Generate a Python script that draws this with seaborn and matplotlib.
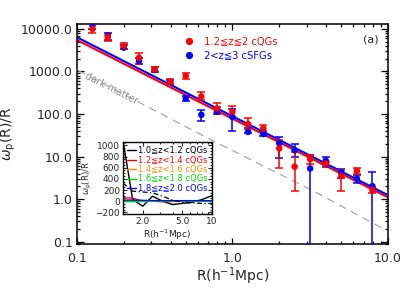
import numpy as np
import pandas as pd
import matplotlib
matplotlib.use("Agg")
import matplotlib.pyplot as plt
import seaborn as sns
from matplotlib.lines import Line2D
from matplotlib.ticker import FixedLocator, FuncFormatter, LogLocator, MultipleLocator, NullFormatter

# projected separation bins (h^-1 Mpc)
r_bins = [0.126, 0.158, 0.200, 0.251, 0.316, 0.398, 0.501, 0.631, 0.794, 1.00,
          1.26, 1.58, 2.00, 2.51, 3.16, 3.98, 5.01, 6.31, 7.94]

# 1.2<=z<=2 compact quiescent galaxies: value, lower and upper end of error bar
qg_w = [10000, 6400, 4000, 2100, 1120, 570, 790, 258, 136, 113,
        58, 46, 15.6, 5.8, 8.7, 6.9, 3.5, 4.6, 1.63]
qg_lo = [7900, 5300, 3330, 1480, 990, 507, 665, 213, 98, 87,
         45, 38, 5.4, 1.57, 6.6, 6.0, 1.57, 4.0, 1.41]
qg_hi = [13100, 7900, 4600, 2700, 1300, 665, 910, 335, 179, 155,
         80, 55, 24.5, 13, 10.8, 7.55, 4.8, 5.25, 1.88]

# 2<z<=3 compact star-forming galaxies
sf_w = [12000, 7100, 3630, 1770, 1085, 566, 235, 96, 113, 85,
        38, 34, 20.5, 14.2, 5.25, 8.0, 4.25, 3.07, 2.02]
sf_lo = [10000, 5500, 3330, 1480, 960, 510, 203, 69, 98, 40,
         35, 30, 9.5, 9.9, 0.01, 5.75, 3.07, 2.34, 0.01]
sf_hi = [14000, 7900, 4200, 2040, 1250, 640, 265, 124, 146, 131,
         47, 40, 29, 19.7, 10.8, 9.9, 5.0, 3.67, 4.4]

# power-law fits and dark matter reference
fit_r = [0.1, 10.0]
qg_fit = [5500, 1.10]
sf_fit = [6380, 1.24]
dm_r = [0.102, 0.695, 3.23, 9.6]
dm_w = [1050, 27, 1.63, 0.19]

# inset: cQGs split by redshift
in_r = [1.26, 1.58, 2.00, 2.51, 3.16, 3.98, 5.01, 6.31, 7.94, 10.0]
in_series = {
    "1.0≦z<1.2 cQGs": [1100, 30, -90, 90, 0, -60, -40, -20, 30, 100],
    "1.2≦z<1.4 cQGs": [60, 55, 0, 0, -10, -5, 0, 0, 0, 0],
    "1.4≦z<1.6 cQGs": [10, 5, -5, 0, 0, 0, 0, 0, 0, 0],
    "1.6≦z<1.8 cQGs": [-5, -10, -5, 0, 0, 0, 0, 0, 0, 0],
    "1.8≦z≦2.0 cQGs": [20, 20, 15, 10, 10, 10, 10, 10, 10, 10],
}
in_colors = ["black", "red", "#ff8c00", "#00dd00", "blue"]
in_dashdot = [325, 180, 165, 150, 90, 20, -20, -30, -40, -40]

sns.set_theme(style="ticks")
plt.rcParams.update({
    "font.family": ["DejaVu Sans"],
    "mathtext.fontset": "dejavusans",
    "xtick.direction": "in",
    "ytick.direction": "in",
    "xtick.top": True,
    "ytick.right": True,
    "axes.linewidth": 1.1,
    "axes.edgecolor": "black",
})

fig = plt.figure(figsize=(4.11, 2.94), dpi=100)
ax = fig.add_axes([0.187, 0.170, 0.757, 0.748])

sns.lineplot(x=dm_r, y=dm_w, ax=ax, color="#a0a0a0", lw=0.8,
             linestyle=(0, (7, 5)), sort=False)
sns.lineplot(x=fit_r, y=qg_fit, ax=ax, color="red", lw=1.5)
sns.lineplot(x=fit_r, y=sf_fit, ax=ax, color="blue", lw=1.5)

for w, lo, hi, col in [(sf_w, sf_lo, sf_hi, "blue"), (qg_w, qg_lo, qg_hi, "red")]:
    w = np.array(w)
    yerr = [w - np.array(lo), np.array(hi) - w]
    ax.errorbar(r_bins, w, yerr=yerr, fmt="none", ecolor=col, elinewidth=1.1,
                capsize=3, capthick=1.1, zorder=3)
    sns.scatterplot(x=r_bins, y=w, ax=ax, color=col, s=22, edgecolor="none", zorder=4)

ax.set_xscale("log")
ax.set_yscale("log")
ax.set_xlim(0.1, 10)
ax.set_ylim(0.088, 13000)
fmt = FuncFormatter(lambda v, p: f"{v:.1f}")
ax.xaxis.set_major_locator(FixedLocator([0.1, 1, 10]))
ax.xaxis.set_major_formatter(fmt)
ax.xaxis.set_minor_locator(LogLocator(base=10, subs=np.arange(2, 10)))
ax.xaxis.set_minor_formatter(NullFormatter())
ax.yaxis.set_major_locator(FixedLocator([0.1, 1, 10, 100, 1000, 10000]))
ax.yaxis.set_major_formatter(fmt)
ax.yaxis.set_minor_locator(LogLocator(base=10, subs=np.arange(2, 10), numticks=20))
ax.yaxis.set_minor_formatter(NullFormatter())
ax.tick_params(axis="both", which="both", labelsize=9, width=0.9, color="black")
ax.tick_params(axis="y", which="major", length=5, pad=3)
ax.tick_params(axis="y", which="minor", length=2.5)
ax.tick_params(axis="x", which="major", length=4, pad=6)
ax.tick_params(axis="x", which="minor", length=2)

ax.set_xlabel(r"R(h$^{-1}$Mpc)", fontsize=10, labelpad=0)
ax.set_ylabel(r"$\omega_{\rm p}$(R)/R", fontsize=10, labelpad=2)

ax.text(0.166, 390, "dark matter", color="#909090", fontsize=7, rotation=-27,
        ha="center", va="center")
ax.text(0.944, 0.93, "(a)", transform=ax.transAxes, fontsize=8, ha="center", va="center")

handles = [Line2D([], [], marker="o", ls="none", color="red", markersize=4.2),
           Line2D([], [], marker="o", ls="none", color="blue", markersize=4.2)]
ax.legend(handles, ["1.2≦z≦2 cQGs", "2<z≦3 cSFGs"], loc="upper left",
          bbox_to_anchor=(0.31, 0.97), frameon=False, fontsize=7.2,
          labelcolor=["red", "blue"], handletextpad=0.5, labelspacing=0.35,
          borderaxespad=0.2)

# inset
ax_in = fig.add_axes([0.299, 0.272, 0.217, 0.245])
for (lab, vals), col in zip(in_series.items(), in_colors):
    sns.lineplot(x=in_r, y=vals, ax=ax_in, color=col, lw=1.0, label=lab)
sns.lineplot(x=in_r, y=in_dashdot, ax=ax_in, color="black", lw=0.9,
             linestyle=(0, (4, 2, 1, 2)))
ax_in.set_xscale("log")
ax_in.set_xlim(1.26, 10)
ax_in.set_ylim(-230, 1060)
ax_in.xaxis.set_major_locator(FixedLocator([2, 5, 10]))
ax_in.xaxis.set_major_formatter(FuncFormatter(lambda v, p: "10" if v >= 10 else f"{v:.1f}"))
ax_in.xaxis.set_minor_locator(FixedLocator([3, 4, 6, 7, 8, 9]))
ax_in.xaxis.set_minor_formatter(NullFormatter())
ax_in.yaxis.set_major_locator(MultipleLocator(200))
ax_in.yaxis.set_minor_locator(MultipleLocator(50))
ax_in.tick_params(axis="both", which="both", labelsize=6.5, width=0.8, pad=2)
ax_in.tick_params(which="major", length=3)
ax_in.tick_params(which="minor", length=1.5)
ax_in.set_xlabel(r"R(h$^{-1}$Mpc)", fontsize=6.5, labelpad=1)
ax_in.set_ylabel(r"$\omega_{\rm p}$(R)/R", fontsize=6, labelpad=1)
ax_in.legend(loc="upper right", frameon=False, fontsize=6, handlelength=1.0,
             handletextpad=0.3, labelspacing=0.05, borderaxespad=0.1,
             labelcolor="linecolor")
for sp in ax_in.spines.values():
    sp.set_linewidth(1.0)

fig.savefig("out.png", dpi=100)
